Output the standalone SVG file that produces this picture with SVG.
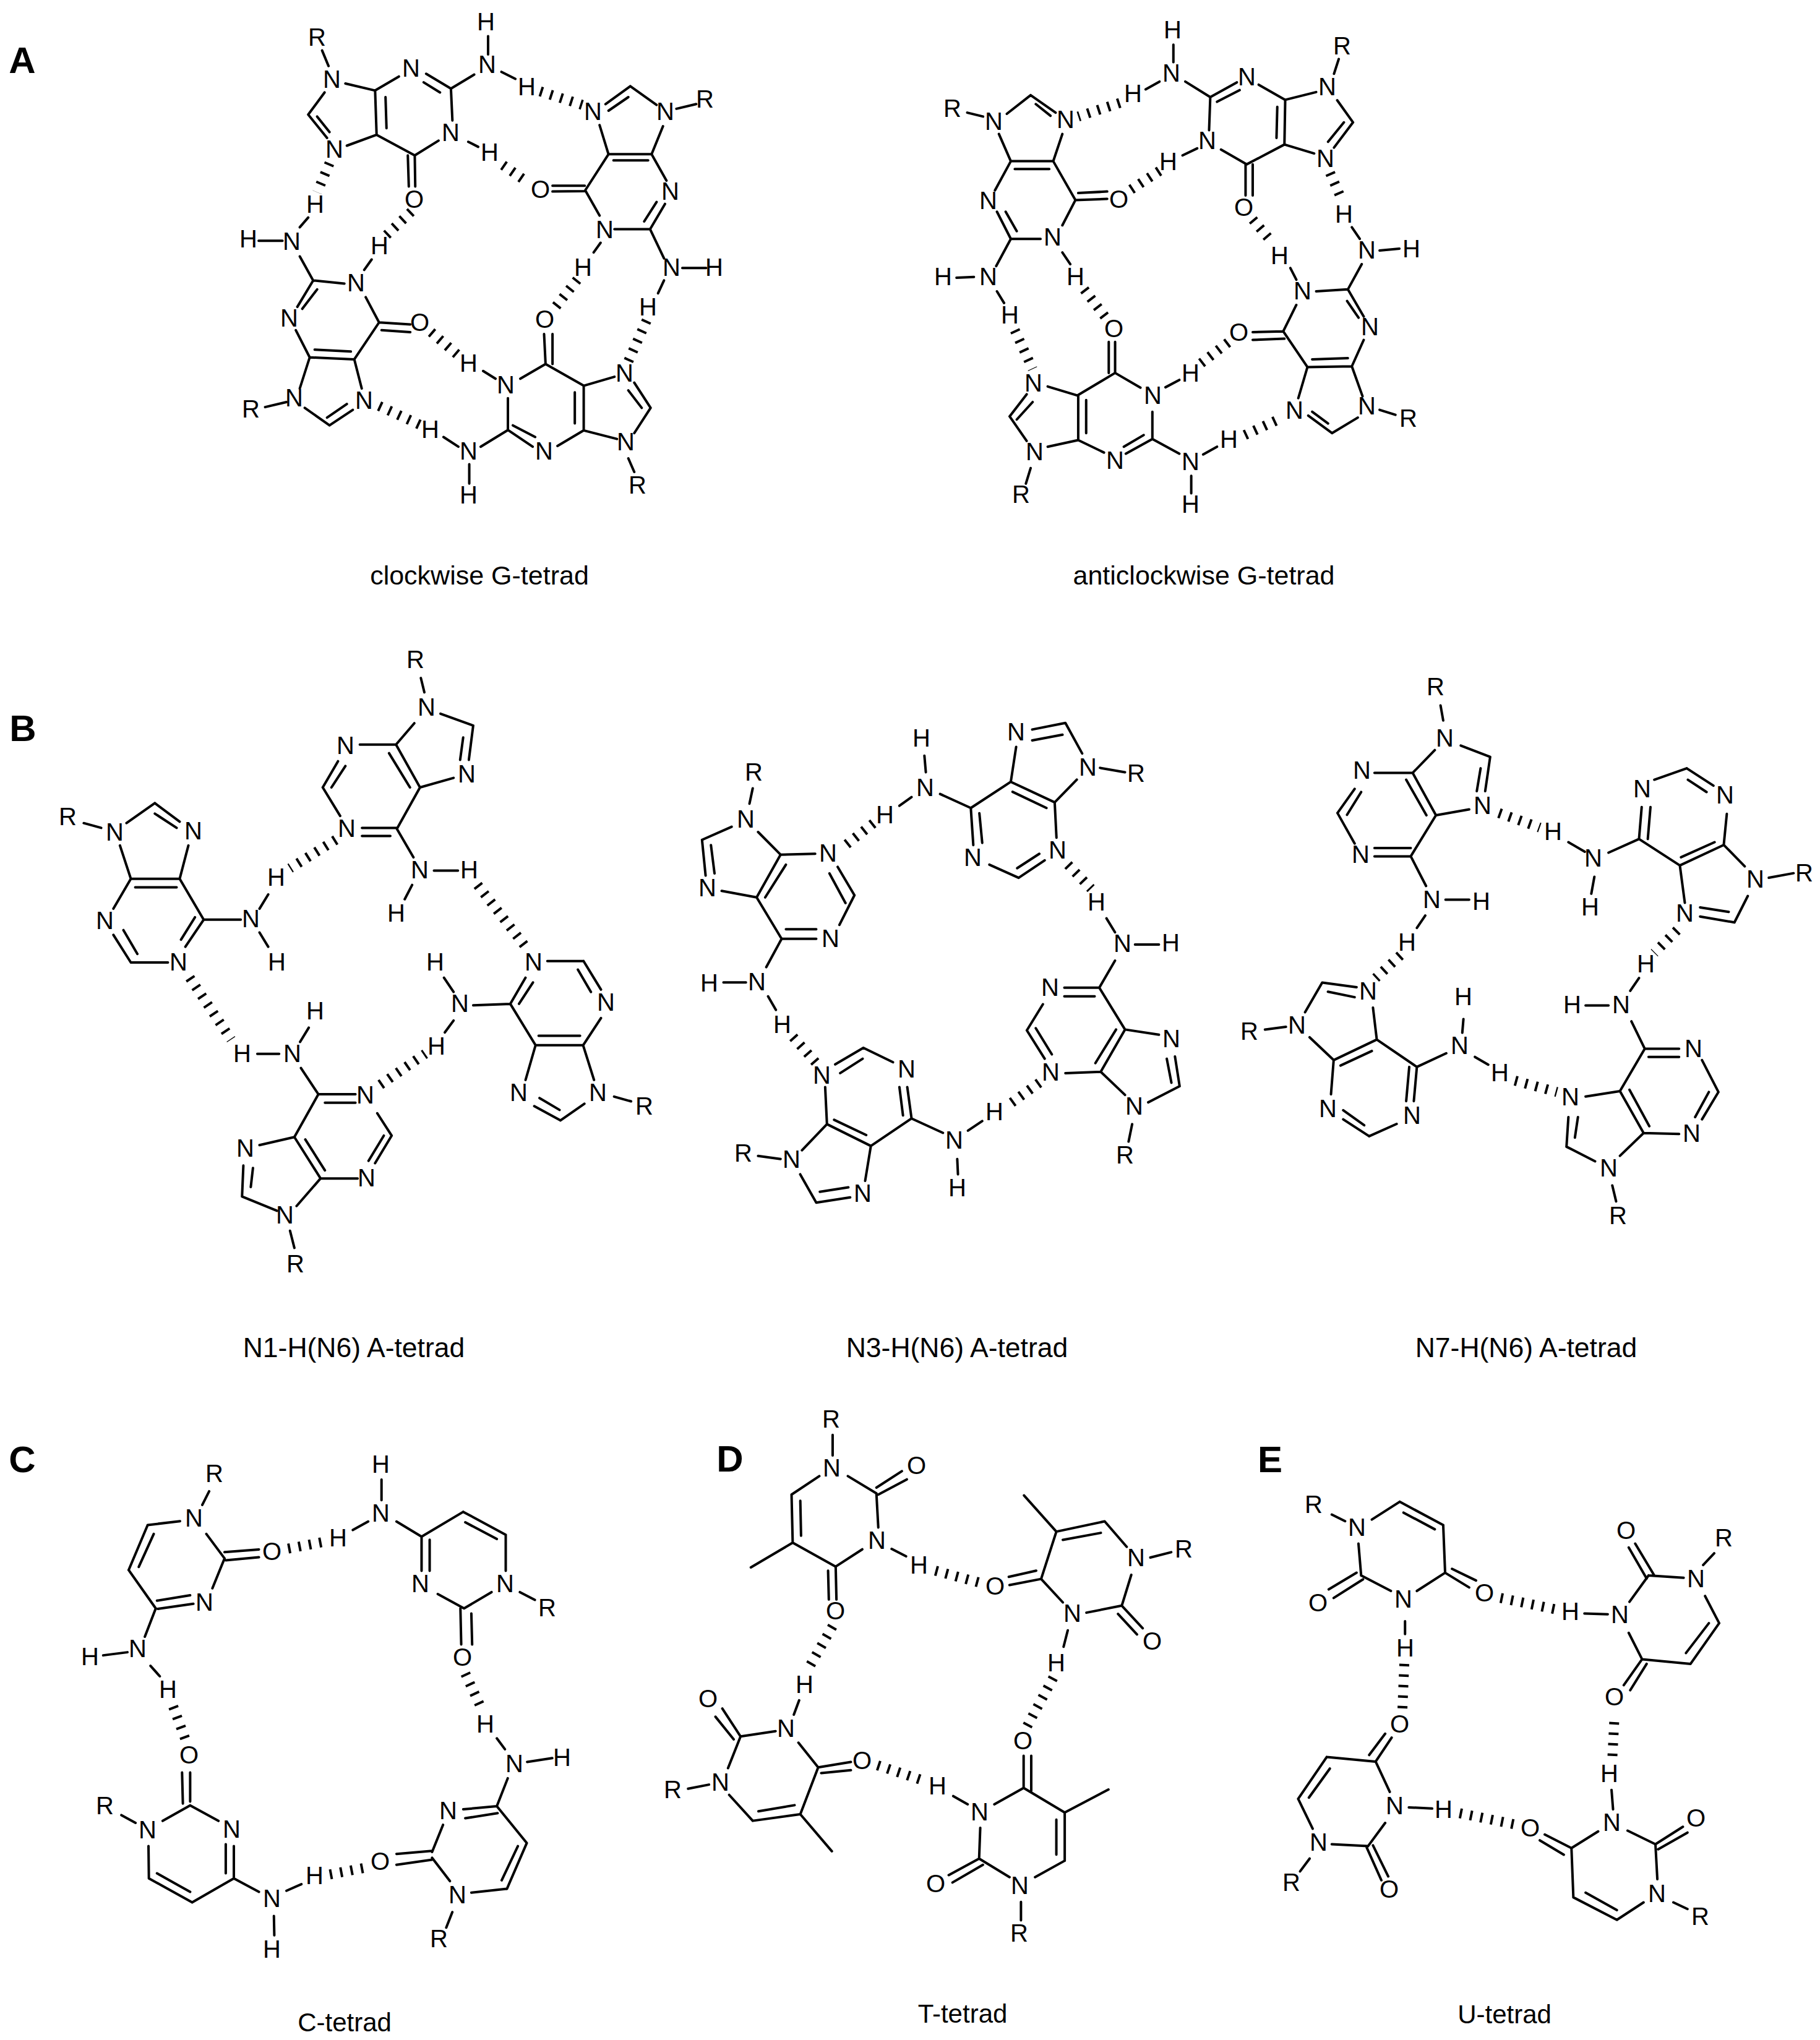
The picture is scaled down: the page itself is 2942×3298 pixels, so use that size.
<svg xmlns="http://www.w3.org/2000/svg" width="2942" height="3298" viewBox="0 0 2942 3298">
<style>
text{font-family:"Liberation Sans",Arial,sans-serif;fill:#000;text-anchor:middle;dominant-baseline:central}
.a{font-size:40px;transform:translate(-1.5px,-3px)}
.p{font-size:60px;font-weight:bold}
.c1{font-size:43px}.c2{font-size:44.5px}.c3{font-size:42px}
.b{fill:none;stroke:#000;stroke-width:4;stroke-linecap:round;vector-effect:non-scaling-stroke}
.h{fill:none;stroke:#000;stroke-width:16;stroke-dasharray:4 13;vector-effect:non-scaling-stroke}
</style>
<rect width="2942" height="3298" fill="#fff"/>
<g id="panel-labels" class="p">
<text x="36" y="97">A</text><text x="37" y="1177">B</text><text x="36" y="2359">C</text><text x="1180" y="2358">D</text><text x="2053" y="2359">E</text>
</g>

<g id="tetrad-clockwise-G">
<g id="connectors-a1" transform="scale(.801,.628)">
<path class="b" d="M650 130L663 170M697 215L757 233M757 233L805 197M860 190L910 228M855 212L888 238M910 228L957 192M985 93L985 140M1012 185L1040 203M910 228L913 310M945 365L965 378M885 362L837 400M823 400L825 480M837 400L838 480M837 400L760 347M757 233L760 347M778 250L780 330M760 347L700 375M660 355L622 295M640 300L665 340M622 295L655 238"/>
<path class="b" d="M1222 268L1272 222M1228 285L1268 250M1272 222L1325 270M1365 280L1405 268M1338 325L1315 397M1228 397L1315 397M1238 413L1308 413M1228 397L1210 322M1228 397L1180 492M1115 493L1180 492M1115 478L1180 478M1182 492L1210 555M1240 590L1312 590M1312 590L1342 525M1300 570L1325 520M1315 397L1345 465M1312 590L1340 665M1377 690L1425 690M1340 722L1328 755M1212 625L1198 650"/>
<path class="b" d="M522 620L570 620M605 585L622 560M605 660L632 722M632 722L695 730M735 695L750 668M632 722L600 790M640 745L610 795M597 850L625 920M625 920L715 925M635 900L708 905M715 925L765 830M765 830L738 765M765 830L828 835M770 850L828 855M715 925L730 1000M625 920L605 1000M578 1035L535 1048M615 1050L665 1095M665 1095L712 1055M660 1075L700 1040"/>
<path class="b" d="M1098 860L1101 937M1115 860L1115 937M1101 937L1050 975M975 955L1000 975M1101 937L1178 993M1178 993L1178 1108M1160 1010L1160 1090M1178 993L1240 970M1280 985L1313 1050M1268 1005L1295 1050M1313 1050L1280 1115M1245 1130L1178 1108M1178 1108L1125 1148M1075 1150L1025 1107M1080 1125L1035 1095M1025 1107L1025 1025M1025 1107L970 1150M925 1150L895 1125M947 1195L947 1245M1268 1180L1280 1215"/>
<path class="h" d="M665 420L640 495M830 545L780 605M1015 425L1060 465M1090 235L1175 270M1165 720L1115 800M1305 825L1268 930M870 855L925 915M765 1045L850 1095"/>
</g>
<g class="a">
<text x="514" y="63">R</text><text x="787" y="38">H</text><text x="789" y="107">N</text><text x="666" y="113">N</text><text x="538" y="131">N</text><text x="730" y="217">N</text><text x="542" y="244">N</text><text x="853" y="143">H</text><text x="960" y="183">N</text><text x="1077" y="183">N</text><text x="1141" y="163">R</text><text x="793" y="249">H</text><text x="875" y="309">O</text><text x="671" y="325">O</text><text x="1085" y="312">N</text><text x="511" y="333">H</text><text x="979" y="374">N</text><text x="473" y="393">N</text><text x="403" y="389">H</text><text x="615" y="400">H</text><text x="577" y="460">N</text><text x="944" y="435">H</text><text x="1087" y="435">N</text><text x="1156" y="435">H</text><text x="1049" y="499">H</text><text x="882" y="519">O</text><text x="680" y="524">O</text><text x="469" y="517">N</text><text x="759" y="590">H</text><text x="1011" y="606">N</text><text x="819" y="625">N</text><text x="477" y="646">N</text><text x="590" y="650">N</text><text x="407" y="664">R</text><text x="697" y="697">H</text><text x="881" y="732">N</text><text x="1013" y="717">N</text><text x="759" y="732">N</text><text x="759" y="803">H</text><text x="1032" y="787">R</text>
</g>
<text class="c1" x="775" y="930">clockwise G-tetrad</text>
</g>

<g id="tetrad-anticlockwise-G">
<g id="connectors-a2" transform="translate(1400,0) scale(.641,.628)">
<path class="b" d="M775 115L775 160M740 210L705 230M805 210L868 250M868 250L935 212M885 262L942 232M990 218L1057 257M1057 257L1055 372M1037 275L1035 355M1057 257L1135 237M1180 190L1192 152M1188 258L1228 315M1228 315L1180 380M1205 315L1165 365M1130 395L1055 372M1055 372L960 423M960 423L895 385M865 335L868 250M835 382L798 400M957 423L957 503M975 423L975 503"/>
<path class="b" d="M255 290L295 300M355 293L415 245M415 245L478 290M428 268L465 298M495 345L472 415M472 415L365 415M462 435L375 435M335 345L365 415M365 415L325 490M330 545L365 615M352 545L380 595M365 615L440 615M495 580L528 515M528 515L472 415M528 515L608 512M535 497L608 493M365 615L328 685M228 715L272 713M330 750L348 780M495 650L515 680"/>
<path class="b" d="M612 880L612 960M628 880L628 960M628 960L533 1018M628 960L692 998M755 997L790 978M722 1060L722 1130M722 1130L655 1168M700 1120L650 1150M600 1165L535 1133M535 1018L535 1133M555 1030L555 1115M533 1018L458 995M405 1015L362 1072M420 1035L380 1080M362 1072L405 1135M458 1150L535 1133M415 1205L403 1245M722 1130L790 1168M850 1170L885 1150M820 1225L820 1270"/>
<path class="b" d="M1070 690L1085 720M1135 750L1215 745M1215 745L1250 680M1295 645L1345 640M1225 585L1245 615M1215 745L1255 815M1213 775L1242 818M1255 875L1225 943M1225 943L1113 945M1215 922L1125 925M1113 945L1052 853M1052 853L1085 785M1052 853L975 855M1055 872L975 875M1113 945L1090 1025M1115 1070L1175 1115M1125 1060L1165 1090M1175 1115L1240 1075M1252 1020L1225 943M1295 1055L1335 1068"/>
<path class="h" d="M640 265L535 300M740 440L665 490M1170 445L1200 515M975 565L1025 625M550 745L610 825M375 850L420 950M845 935L915 880M955 1120L1050 1075"/>
</g>
<g class="a">
<text x="1897" y="51">H</text><text x="2171" y="77">R</text><text x="1895" y="121">N</text><text x="2017" y="127">N</text><text x="2147" y="143">N</text><text x="1541" y="178">R</text><text x="1833" y="154">H</text><text x="1608" y="199">N</text><text x="1724" y="196">N</text><text x="1953" y="230">N</text><text x="2144" y="259">N</text><text x="1890" y="264">H</text><text x="1810" y="325">O</text><text x="2012" y="338">O</text><text x="2174" y="349">H</text><text x="1599" y="327">N</text><text x="1703" y="386">N</text><text x="2211" y="407">N</text><text x="2283" y="405">H</text><text x="2070" y="416">H</text><text x="1526" y="450">H</text><text x="1599" y="450">N</text><text x="1740" y="450">H</text><text x="2107" y="473">N</text><text x="1634" y="512">H</text><text x="2216" y="531">N</text><text x="1802" y="534">O</text><text x="2004" y="540">O</text><text x="1672" y="622">N</text><text x="1926" y="606">H</text><text x="1865" y="642">N</text><text x="2094" y="666">N</text><text x="2211" y="659">N</text><text x="2278" y="679">R</text><text x="1988" y="713">H</text><text x="1674" y="733">N</text><text x="1804" y="747">N</text><text x="1926" y="749">N</text><text x="1652" y="802">R</text><text x="1926" y="818">H</text>
</g>
<text class="c1" x="1946" y="930">anticlockwise G-tetrad</text>
</g>

<g id="tetrad-N1-A">
<g id="connectors-b1" transform="translate(0,1050) scale(.705,.769)">
<path class="b" d="M965 60L973 90M950 155L908 200M1010 135L1085 160M1085 160L1075 232M1062 185L1055 232M1040 270L963 290M908 200L963 290M892 218L940 290M908 200L825 200M775 235L740 290M792 245L760 290M740 290L780 350M830 375L910 375M830 392L895 392M910 377L963 290M910 377L948 437M995 465L1050 465M945 495L928 525"/>
<path class="b" d="M192 365L232 375M290 365L355 323M355 323L412 362M355 345L405 375M432 412L412 482M300 482L412 482M310 500L405 500M300 482L275 412M300 482L260 545M260 600L300 658M283 590L315 640M300 658L385 658M425 625L467 568M415 610L447 563M467 568L412 482M467 568L552 568M595 545L615 515M595 595L615 625"/>
<path class="b" d="M590 850L640 850M688 825L708 795M690 880L730 935M730 935L815 935M745 953L815 953M730 935L675 1025M865 975L898 1022M898 1022L860 1080M880 1022L845 1075M820 1112L735 1112M735 1112L675 1025M745 1095L700 1030M675 1025L595 1042M558 1085L555 1150M580 1090L575 1130M555 1150L635 1180M680 1170L735 1112M665 1222L675 1258"/>
<path class="b" d="M1018 690L1040 720M1040 780L1020 805M1085 748L1170 745M1170 745L1205 690M1190 745L1222 700M1255 655L1338 655M1338 655L1378 715M1325 673L1355 720M1378 775L1337 832M1337 832L1228 832M1330 812L1235 812M1228 832L1170 745M1228 832L1205 905M1225 960L1285 990M1237 943L1283 968M1285 990L1340 955M1362 905L1337 832M1408 940L1447 950"/>
<path class="h" d="M770 400L665 460M1095 495L1205 625M435 690L530 820M872 915L975 850"/>
</g>
<g class="a">
<text x="673" y="1069">R</text><text x="691" y="1146">N</text><text x="111" y="1323">R</text><text x="187" y="1348">N</text><text x="314" y="1346">N</text><text x="560" y="1208">N</text><text x="756" y="1254">N</text><text x="562" y="1342">N</text><text x="448" y="1421">H</text><text x="680" y="1409">N</text><text x="760" y="1409">H</text><text x="171" y="1491">N</text><text x="407" y="1488">N</text><text x="642" y="1479">H</text><text x="290" y="1558">N</text><text x="449" y="1558">H</text><text x="705" y="1558">H</text><text x="864" y="1558">N</text><text x="745" y="1625">N</text><text x="981" y="1623">N</text><text x="511" y="1637">H</text><text x="707" y="1694">H</text><text x="393" y="1706">H</text><text x="474" y="1706">N</text><text x="840" y="1769">N</text><text x="968" y="1769">N</text><text x="592" y="1773">N</text><text x="1043" y="1791">R</text><text x="398" y="1859">N</text><text x="594" y="1907">N</text><text x="462" y="1967">N</text><text x="479" y="2046">R</text>
</g>
<text class="c2" x="572" y="2178">N1-H(N6) A-tetrad</text>
</g>

<g id="tetrad-N3-A">
<g id="connectors-b2" transform="translate(1080,1130) scale(.577,.705)">
<path class="b" d="M718 130L722 168M682 225L648 245M762 218L848 250M848 250L855 335M872 262L880 330M900 380L982 410M982 410L1055 370M978 388L1040 355M1088 318L1083 237M1083 237L960 190M1060 250L965 213M960 190L848 250M960 190L975 110M1020 70L1113 55M1020 95L1105 82M1113 55L1160 125M1145 185L1083 237M1210 158L1280 168"/>
<path class="b" d="M237 205L228 240M178 293L95 323M95 323L105 405M120 335L130 400M150 440L248 455M248 455L315 357M272 455L330 380M315 357L252 305M315 357L412 355M475 385L522 450M452 400L497 468M522 450L480 518M320 550L415 550M330 528L415 528M318 550L248 455M318 550L275 615M155 650L218 650M280 682L302 713"/>
<path class="b" d="M1228 503L1252 535M1308 563L1375 563M1252 600L1208 662M1208 662L1110 662M1195 682L1110 682M1050 700L1005 760M1005 760L1055 825M1030 755L1075 815M1113 858L1212 855M1212 855L1280 758M1197 835L1255 758M1280 758L1208 662M1280 758L1375 770M1420 820L1433 888M1397 825L1410 880M1433 888L1345 925M1280 908L1212 855M1300 975L1290 1015"/>
<path class="b" d="M468 838L547 800M482 858L545 825M547 800L630 833M670 890L682 962M648 890L658 955M682 962L770 995M840 990L880 968M810 1055L812 1090M682 962L568 1025M568 1025L445 975M555 1000L465 965M440 890L445 975M445 975L375 1035M252 1048L315 1055M370 1090L415 1155M415 1155L510 1143M425 1130L505 1120M552 1105L568 1025"/>
<path class="h" d="M575 285L490 340M1120 380L1185 435M350 775L415 835M1040 880L955 930"/>
</g>
<g class="a">
<text x="1491" y="1196">H</text><text x="1644" y="1186">N</text><text x="1497" y="1276">N</text><text x="1760" y="1243">N</text><text x="1838" y="1253">R</text><text x="1220" y="1251">R</text><text x="1207" y="1327">N</text><text x="1432" y="1320">H</text><text x="1340" y="1382">N</text><text x="1574" y="1389">N</text><text x="1711" y="1377">N</text><text x="1145" y="1438">N</text><text x="1774" y="1461">H</text><text x="1344" y="1520">N</text><text x="1816" y="1528">N</text><text x="1894" y="1527">H</text><text x="1148" y="1592">H</text><text x="1225" y="1590">N</text><text x="1699" y="1599">N</text><text x="1266" y="1659">H</text><text x="1895" y="1682">N</text><text x="1467" y="1731">N</text><text x="1330" y="1741">N</text><text x="1700" y="1736">N</text><text x="1609" y="1800">H</text><text x="1835" y="1791">N</text><text x="1544" y="1846">N</text><text x="1203" y="1867">R</text><text x="1281" y="1877">N</text><text x="1820" y="1870">R</text><text x="1549" y="1923">H</text><text x="1396" y="1932">N</text>
</g>
<text class="c2" x="1547" y="2178">N3-H(N6) A-tetrad</text>
</g>

<g id="tetrad-N7-A">
<g id="connectors-b3" transform="translate(1980,1080) scale(.617,.737)">
<path class="b" d="M565 82L572 115M550 180L492 230M618 170L695 195M695 195L682 270M670 220L660 270M640 310L553 323M553 323L492 230M528 323L475 245M492 230L392 230M340 265L295 318M357 272L320 322M295 318L340 385M392 395L487 395M392 413L487 413M487 413L553 323M487 413L527 478M578 508L640 508M525 543L503 570"/>
<path class="b" d="M900 382L943 403M1005 405L1085 375M1085 375L1092 305M1108 375L1115 305M1125 245L1210 220M1210 220L1280 258M1213 245L1262 272M1315 320L1307 388M1307 388L1192 433M1283 382L1195 415M1192 433L1085 375M1307 388L1362 435M1425 460L1490 450M1370 500L1335 558M1335 558L1245 545M1320 535L1245 525M1205 515L1192 433M968 458L960 495"/>
<path class="b" d="M345 700L255 690M340 722L270 710M255 690L210 755M105 793L160 787M222 810L285 860M285 860L398 815M303 872L385 840M398 815L388 745M398 815L503 875M503 875L580 845M625 770L622 800M655 853L690 870M503 875L495 950M483 875L475 950M450 1000L378 1027M378 1027L310 990M365 1003L310 970M285 860L278 935"/>
<path class="b" d="M1085 680L1062 708M945 740L1005 740M1065 775L1100 835M1100 835L1190 835M1110 853L1190 853M1250 860L1293 930M1293 930L1250 990M1268 930L1232 985M1190 1022L1097 1020M1097 1020L1035 928M1060 925L1112 1005M1035 928L1100 835M1035 928L945 940M900 985L895 1050M925 985L917 1030M895 1050L970 1082M1035 1070L1097 1020M1015 1135L1025 1170"/>
<path class="h" d="M718 318L825 350M460 630L395 680M1185 575L1125 625M760 905L870 930"/>
</g>
<g class="a">
<text x="2322" y="1113">R</text><text x="2337" y="1196">N</text><text x="2203" y="1248">N</text><text x="2656" y="1278">N</text><text x="2790" y="1288">N</text><text x="2398" y="1305">N</text><text x="2201" y="1384">N</text><text x="2512" y="1347">H</text><text x="2577" y="1390">N</text><text x="2839" y="1424">N</text><text x="2918" y="1414">R</text><text x="2396" y="1460">H</text><text x="2316" y="1457">N</text><text x="2572" y="1469">H</text><text x="2725" y="1479">N</text><text x="2276" y="1526">H</text><text x="2662" y="1561">H</text><text x="2213" y="1605">N</text><text x="2367" y="1614">H</text><text x="2543" y="1627">H</text><text x="2622" y="1627">N</text><text x="2021" y="1670">R</text><text x="2098" y="1660">N</text><text x="2361" y="1693">N</text><text x="2739" y="1698">N</text><text x="2426" y="1737">H</text><text x="2540" y="1776">N</text><text x="2148" y="1795">N</text><text x="2284" y="1806">N</text><text x="2736" y="1835">N</text><text x="2602" y="1891">N</text><text x="2617" y="1968">R</text>
</g>
<text class="c2" x="2467" y="2178">N7-H(N6) A-tetrad</text>
</g>

<g id="tetrad-C">
<g id="connectors-c" transform="translate(0,2320) scale(.654,.627)">
<path class="b" d="M517 145L500 180M445 222L365 232M365 232L318 348M380 255L343 340M318 348L385 447M388 427L470 413M390 448L478 435M525 395L555 318M555 318L510 255M555 302L640 295M558 323L640 315M385 447L358 520M255 568L315 560M372 595L395 622"/>
<path class="b" d="M943 115L943 168M910 223L872 245M980 223L1042 262M1042 262L1145 198M1145 198L1250 257M1150 225L1228 268M1250 257L1250 350M1215 405L1147 447M1147 447L1082 410M1042 262L1042 350M1062 270L1062 350M1138 447L1140 540M1165 460L1167 540M1285 405L1322 425"/>
<path class="b" d="M450 870L452 950M470 870L470 945M300 980L335 1000M402 995L470 955M470 955L540 995M558 1055L558 1130M578 1060L578 1140M578 1143L475 1205M475 1205L368 1143M470 1178L388 1130M368 1143L367 1060M578 1143L640 1178M708 1175L745 1158M677 1240L678 1290"/>
<path class="b" d="M1228 782L1248 810M1303 843L1365 833M1255 885L1228 957M1228 957L1145 965M1230 975L1150 988M1095 1005L1068 1075M1068 1072L980 1080M1068 1095L980 1108M1068 1090L1112 1150M1165 1180L1253 1170M1253 1170L1302 1052M1240 1148L1280 1060M1302 1052L1228 957M1118 1230L1103 1270"/>
<path class="h" d="M712 293L802 275M428 700L462 795M1150 615L1190 705M815 1133L905 1115"/>
</g>
<g class="a">
<text x="348" y="2385">R</text><text x="617" y="2370">H</text><text x="315" y="2457">N</text><text x="617" y="2449">N</text><text x="548" y="2489">H</text><text x="441" y="2511">O</text><text x="332" y="2593">N</text><text x="681" y="2563">N</text><text x="818" y="2563">N</text><text x="886" y="2602">R</text><text x="147" y="2681">H</text><text x="224" y="2668">N</text><text x="749" y="2682">O</text><text x="273" y="2734">H</text><text x="786" y="2790">H</text><text x="910" y="2844">H</text><text x="833" y="2854">N</text><text x="307" y="2840">O</text><text x="726" y="2930">N</text><text x="171" y="2922">R</text><text x="240" y="2961">N</text><text x="376" y="2960">N</text><text x="616" y="3012">O</text><text x="510" y="3035">H</text><text x="741" y="3066">N</text><text x="441" y="3072">N</text><text x="441" y="3154">H</text><text x="711" y="3137">R</text>
</g>
<text class="c3" x="557" y="3269">C-tetrad</text>
</g>

<g id="tetrad-T">
<g id="connectors-d" transform="translate(1020,2260) scale(.615,.665)">
<path class="b" d="M530 90L530 140M495 190L422 235M422 235L425 352M445 250L447 335M425 352L315 412M425 352L538 410M518 420L520 490M538 410L540 490M538 410L608 368M650 315L645 232M645 232L570 190M645 218L712 178M650 235L725 198M685 367L723 385"/>
<path class="b" d="M1033 237L1118 325M1118 325L1245 300M1135 345L1235 328M1245 300L1303 362M1365 388L1420 375M1315 430L1290 505M1290 505L1197 522M1135 497L1078 440M1078 440L1118 325M1078 440L995 455M1065 420L993 435M1290 505L1345 560M1280 525L1330 575M1148 565L1137 605"/>
<path class="b" d="M442 735L428 770M380 810L288 823M288 823L240 755M270 830L222 775M288 823L255 900M150 950L205 940M258 965L320 1028M320 1028L445 1012M335 1005L430 990M445 1012L528 1102M445 1012L492 898M492 898L440 838M492 898L578 885M500 912L578 905"/>
<path class="b" d="M847 968L885 988M955 988L1032 948M1032 948L1032 870M1052 955L1052 870M1032 948L1140 1008M1140 1008L1255 952M1140 1008L1140 1125M1118 1025L1118 1110M1140 1125L1062 1165M995 1165L915 1120M915 1120L918 1045M915 1120L835 1160M925 1135L845 1178M1025 1225L1025 1270"/>
<path class="h" d="M800 420L920 450M530 555L465 660M1110 680L1040 800M648 893L768 930"/>
</g>
<g class="a">
<text x="1345" y="2297">R</text><text x="1483" y="2372">O</text><text x="1346" y="2376">N</text><text x="1419" y="2493">N</text><text x="1915" y="2507">R</text><text x="1838" y="2521">N</text><text x="1487" y="2533">H</text><text x="1610" y="2567">O</text><text x="1735" y="2611">N</text><text x="1352" y="2607">O</text><text x="1864" y="2656">O</text><text x="1709" y="2691">H</text><text x="1302" y="2726">H</text><text x="1146" y="2749">O</text><text x="1272" y="2797">N</text><text x="1655" y="2817">O</text><text x="1395" y="2849">O</text><text x="1166" y="2884">N</text><text x="1089" y="2896">R</text><text x="1517" y="2890">H</text><text x="1585" y="2932">N</text><text x="1650" y="3051">N</text><text x="1514" y="3048">O</text><text x="1649" y="3128">R</text>
</g>
<text class="c3" x="1556" y="3255">T-tetrad</text>
</g>

<g id="tetrad-U">
<g id="connectors-e" transform="translate(1980,2320) scale(.617,.627)">
<path class="b" d="M280 205L315 222M385 218L458 172M458 172L572 232M468 200L550 243M572 232L577 355M595 345L658 375M577 355L640 393M577 355L503 402M435 402L357 362M357 362L350 280M345 355L272 398M362 372L285 420M472 480L472 513"/>
<path class="b" d="M1075 280L1125 362M1058 290L1105 370M1110 362L1202 368M1253 335L1282 305M1258 415L1295 485M1295 485L1220 590M1268 485L1208 562M1220 590L1093 578M1093 578L1058 510M1060 430L1110 362M1093 578L1045 645M1105 590L1062 658M942 460L1003 462"/>
<path class="b" d="M420 770L378 825M437 780L395 842M395 842L267 830M267 830L192 938M275 860L220 935M192 938L230 1015M280 1055L375 1060M375 1060L420 1000M395 842L432 920M370 1060L410 1148M388 1058L428 1138M222 1092L197 1125M482 960L543 963"/>
<path class="b" d="M1013 915L1017 965M825 1045L888 1082M838 1030L908 1065M908 1065L978 1022M1055 1020L1128 1055M1128 1055L1200 1010M1135 1068L1212 1025M1128 1055L1133 1145M1097 1205L1027 1250M1027 1250L913 1192M1027 1225L945 1180M913 1192L908 1065M1175 1205L1212 1222"/>
<path class="h" d="M722 420L870 450M470 590L465 710M1020 740L1015 835M615 975L765 1005"/>
</g>
<g class="a">
<text x="2125" y="2435">R</text><text x="2195" y="2472">N</text><text x="2630" y="2477">O</text><text x="2788" y="2489">R</text><text x="2743" y="2555">N</text><text x="2401" y="2578">O</text><text x="2270" y="2588">N</text><text x="2132" y="2594">O</text><text x="2540" y="2608">H</text><text x="2620" y="2613">N</text><text x="2273" y="2667">H</text><text x="2611" y="2746">O</text><text x="2264" y="2790">O</text><text x="2603" y="2870">H</text><text x="2256" y="2922">N</text><text x="2335" y="2928">H</text><text x="2743" y="2942">O</text><text x="2607" y="2949">N</text><text x="2475" y="2958">O</text><text x="2133" y="2981">N</text><text x="2680" y="3064">N</text><text x="2089" y="3046">R</text><text x="2247" y="3057">O</text><text x="2750" y="3101">R</text>
</g>
<text class="c3" x="2432" y="3256">U-tetrad</text>
</g>
</svg>
